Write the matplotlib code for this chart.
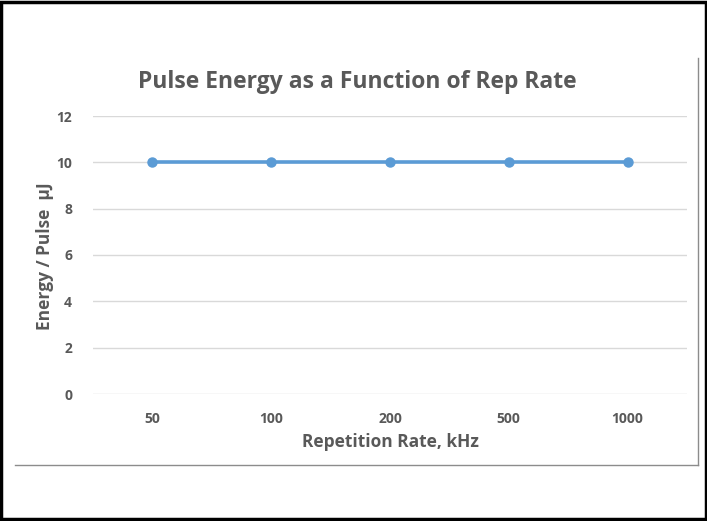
import matplotlib.pyplot as plt
from matplotlib.lines import Line2D
from matplotlib.patches import Rectangle

categories = ["50", "100", "200", "500", "1000"]
energy = [10, 10, 10, 10, 10]
y_ticks = [0, 2, 4, 6, 8, 10, 12]

W, H = 707, 521
plt.rcParams["font.family"] = ["Open Sans", "DejaVu Sans"]
gray = "#595959"

fig = plt.figure(figsize=(W / 100, H / 100), dpi=100)
ax = fig.add_axes([93 / W, 1 - 394 / H, (687 - 93) / W, (394 - 116) / H])

x = list(range(len(categories)))
ax.plot(x, energy, color="#5B9BD5", lw=2.6, marker="o", ms=6.5, zorder=3)

ax.set_xlim(-0.5, len(categories) - 0.5)
ax.set_ylim(0, 12)
ax.set_yticks(y_ticks)
ax.set_xticks(x)
ax.set_xticklabels(categories)
ax.grid(axis="y", color="#D9D9D9", lw=1)
ax.set_axisbelow(True)
for s in ax.spines.values():
    s.set_visible(False)
ax.tick_params(length=0, colors=gray, labelsize=10)
ax.tick_params(axis="x", pad=13)
ax.tick_params(axis="y", pad=15)
for lab in ax.get_xticklabels() + ax.get_yticklabels():
    lab.set_fontweight("bold")

fig.text(357 / W, 1 - 82 / H, "Pulse Energy as a Function of Rep Rate",
         ha="center", va="center", fontsize=16.5, fontweight="bold", color=gray)
fig.text(390 / W, 1 - 442 / H, "Repetition Rate, kHz",
         ha="center", va="center", fontsize=12.5, fontweight="bold", color=gray)
fig.text(45 / W, 1 - 256 / H, "Energy / Pulse  µJ", rotation=90,
         ha="center", va="center", fontsize=12.5, fontweight="bold", color=gray)

# chart area border pieces
fig.add_artist(Line2D([698 / W, 698 / W], [1 - 58 / H, 1 - 465 / H], color="#8C8C8C", lw=1))
fig.add_artist(Line2D([15 / W, 698 / W], [1 - 465 / H, 1 - 465 / H], color="#8C8C8C", lw=1))
# outer frame
fig.add_artist(Rectangle((0.002, 0.003), 0.996, 0.994, transform=fig.transFigure,
                         fill=False, edgecolor="black", lw=2.5))

fig.savefig("out.png", dpi=100)
